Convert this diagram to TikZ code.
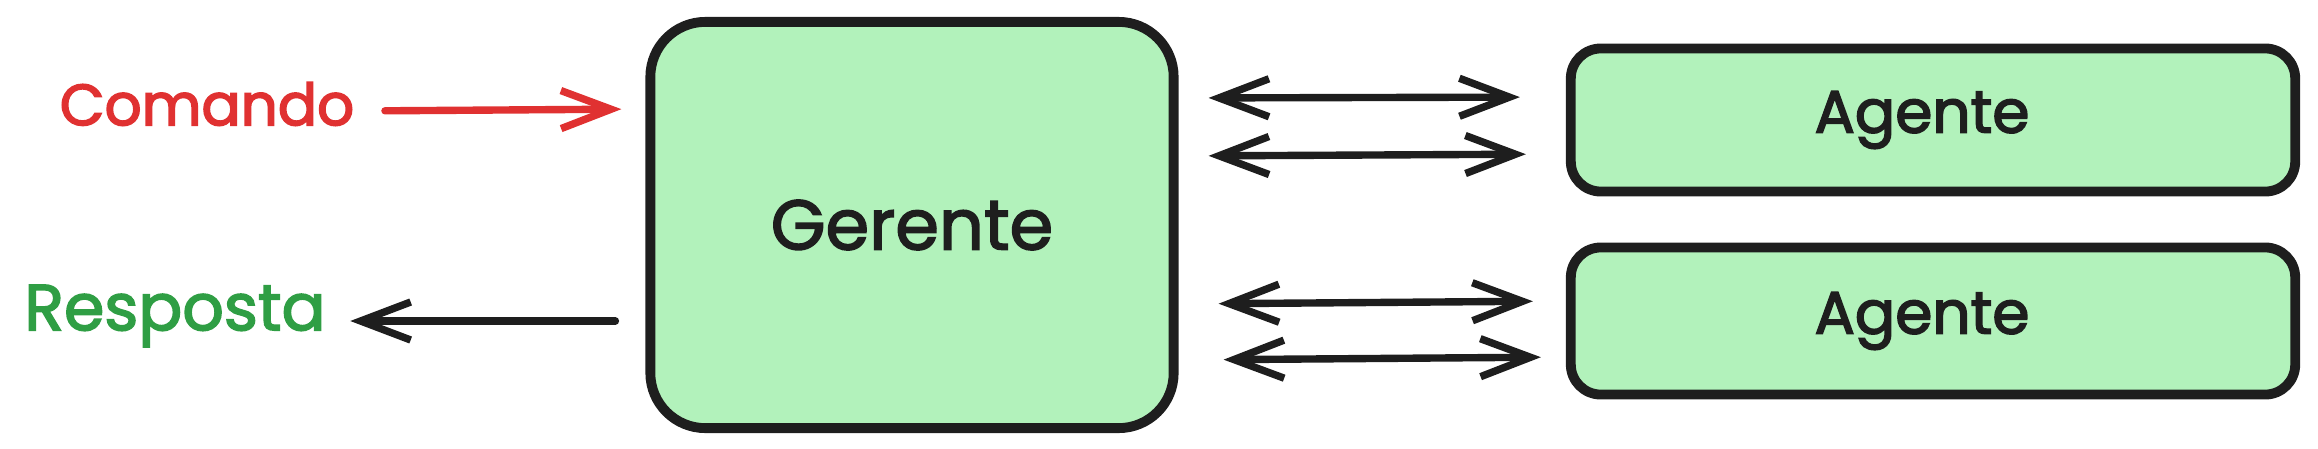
\documentclass[tikz,border=0pt]{standalone}
\usepackage{fontspec}
\setmainfont{Poppins}
\usetikzlibrary{arrows.meta}
\definecolor{strokec}{HTML}{1E1E1E}
\definecolor{fillg}{HTML}{B2F2BB}
\definecolor{redc}{HTML}{E03131}
\definecolor{greenc}{HTML}{2F9E44}
\newcommand{\heavytext}[1]{\special{pdf:literal 2 Tr 0.45 w}#1\special{pdf:literal 0 Tr}}
\tikzset{
  box/.style={draw=strokec, fill=fillg, line width=2.8pt, inner sep=0pt, text=strokec},
  lbl/.style={inner sep=0pt},
  conn/.style={line width=2.1pt, line cap=round, line join=round, -{Straight Barb[length=0.5cm, width=0.38cm, line width=2.1pt]}},
  dconn/.style={line width=2.1pt, line cap=round, line join=round, {Straight Barb[length=0.5cm, width=0.38cm, line width=2.1pt]}-{Straight Barb[length=0.5cm, width=0.38cm, line width=2.1pt]}}
}
\begin{document}
\begin{tikzpicture}[x=0.01cm, y=-0.01cm]
\useasboundingbox (0,0) rectangle (2318,448);
\node[box, rounded corners=0.55cm, minimum width=5.23cm, minimum height=4.06cm, font=\fontsize{20}{24}\selectfont] (gerente) at (912,225) {\heavytext{Gerente}};
\node[box, rounded corners=0.3cm, minimum width=7.24cm, minimum height=1.43cm, font=\fontsize{17}{20}\selectfont] (agent1) at (1933,120) {\hspace*{-0.22cm}\heavytext{Agente}};
\node[box, rounded corners=0.3cm, minimum width=7.24cm, minimum height=1.47cm, font=\fontsize{17}{20}\selectfont] (agent2) at (1933,321) {\hspace*{-0.22cm}\heavytext{Agente}};
\node[lbl, text=redc, font=\fontsize{16.5}{20}\selectfont] (comando) at (207,104) {\heavytext{Comando}};
\node[lbl, text=greenc, font=\fontsize{18.5}{22}\selectfont] (resposta) at (175,316) {\heavytext{Resposta}};
\draw[conn, draw=redc, shorten <=0.3cm, shorten >=0.24cm] (comando.east |- 0,111) -- (gerente.west |- 0,109);
\draw[conn, draw=strokec, shorten <=0.3cm, shorten >=0.24cm] (gerente.west |- 0,321) -- (resposta.east |- 0,321);
\draw[dconn, draw=strokec, shorten <=0.3cm, shorten >=0.46cm] (gerente.east |- 0,98) -- (agent1.west |- 0,97);
\draw[dconn, draw=strokec, shorten <=0.3cm, shorten >=0.4cm] (gerente.east |- 0,156) -- (agent1.west |- 0,154);
\draw[dconn, draw=strokec, shorten <=0.4cm, shorten >=0.33cm] (gerente.east |- 0,304) -- (agent2.west |- 0,301);
\draw[dconn, draw=strokec, shorten <=0.45cm, shorten >=0.25cm] (gerente.east |- 0,360) -- (agent2.west |- 0,357);
\end{tikzpicture}
\end{document}
